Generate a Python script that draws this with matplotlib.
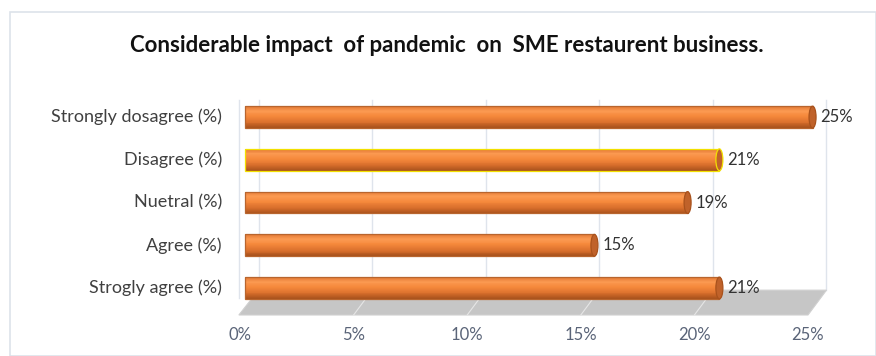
import numpy as np
import matplotlib.pyplot as plt
from matplotlib.patches import Polygon, Rectangle, Ellipse
from matplotlib.colors import to_rgb

categories = ["Strogly agree (%)", "Agree (%)", "Nuetral (%)", "Disagree (%)", "Strongly dosagree (%)"]
values = [20.9, 15.4, 19.5, 20.9, 25.0]
value_labels = ["21%", "15%", "19%", "21%", "25%"]
ticks = [0, 5, 10, 15, 20, 25]
tick_labels = ["0%", "5%", "10%", "15%", "20%", "25%"]

W, H = 876, 356
fig = plt.figure(figsize=(W / 100, H / 100), dpi=100)
plt.rcParams['font.family'] = ['Lato', 'DejaVu Sans']

# outer chart border
fig.patches.append(Rectangle((10 / W, 0), (W - 10) / W, (H - 12) / H, transform=fig.transFigure,
                             fill=False, edgecolor='#dde3ea', lw=1.2))

fig.text(447 / W, 1 - 45 / H, "Considerable impact  of pandemic  on  SME restaurent business.",
         ha='center', va='center', fontsize=16, fontweight='bold', color='#111111')

# axes: x front scale 0% at 240px, 25% at 808px ; y 298px..100px
ax = fig.add_axes([240 / W, 1 - 298 / H, 568 / W, 198 / H])
ax.set_xlim(0, 25)
ax.set_ylim(-0.234, 4.4)
ax.axis('off')

px = 25 / 568  # data units per pixel in x
py = 4.634 / 198  # data units per pixel in y
dx = 18.5 * px  # depth offset of back wall

# back wall gridlines and side edge
for t in ticks:
    ax.plot([t + dx, t + dx], [-0.05, 4.4], color='#dfe4ec', lw=1, clip_on=False, zorder=1)
ax.plot([-0.05, -0.05], [-0.234, 4.4], color='#dfe4ec', lw=1, clip_on=False, zorder=1)

# floor
floor_h = 17 * py
ax.add_patch(Polygon([(0 - 0.05, -0.234 - floor_h), (25, -0.234 - floor_h),
                      (25 + dx, -0.05), (dx, -0.05)],
                     closed=True, facecolor='#c6c6c6', edgecolor='#d0d0d0', lw=0.8,
                     clip_on=False, zorder=1))
for t in ticks[1:-1]:
    ax.plot([t, t + dx], [-0.234 - floor_h, -0.05], color='#e6e6e6', lw=0.8, clip_on=False, zorder=2)

# bars drawn as horizontal cylinders (vertical colour gradient + end cap)
ypos = list(range(len(categories)))
bh = 0.51
left = 0.2
stops = [(0.0, '#a9521c'), (0.25, '#d96f2c'), (0.55, '#f6893c'), (0.8, '#fb9a52'), (1.0, '#e47a35')]
n = 24
fr = np.linspace(0, 1, n)
sx = [s[0] for s in stops]
cols = [to_rgb(s[1]) for s in stops]
grad = [tuple(np.interp(f, sx, [c[i] for c in cols]) for i in range(3)) for f in fr]
edges = ['#b8652e', '#b8652e', '#b8652e', '#f2e000', '#b8652e']
for y, v, ec in zip(ypos, values, edges):
    for k, f in enumerate(fr):
        ax.barh(y - bh / 2 + (k + 0.5) * bh / n, v, height=bh / n * 1.05, left=left,
                color=grad[k], lw=0, zorder=3, clip_on=False)
    ax.barh(y, v, height=bh, left=left, fill=False, edgecolor=ec, lw=0.9, zorder=4, clip_on=False)
    ax.add_patch(Ellipse((left + v, y), 7 * px, bh, facecolor='#c0622a',
                         edgecolor=ec if ec == '#f2e000' else '#a9521c', lw=0.9, zorder=5,
                         clip_on=False))

for y, v, lab in zip(ypos, values, value_labels):
    ax.text(left + v + 8 * px, y, lab, ha='left', va='center', fontsize=12, color='#333333',
            clip_on=False, zorder=6)
for y, c in zip(ypos, categories):
    ax.text(-18 * px, y, c, ha='right', va='center', fontsize=13, color='#404040', clip_on=False)

for t, lab in zip(ticks, tick_labels):
    ax.text(t, -0.234 - 37 * py, lab, ha='center', va='center', fontsize=12, color='#5a6478',
            clip_on=False)

fig.savefig("out.png", dpi=100)
